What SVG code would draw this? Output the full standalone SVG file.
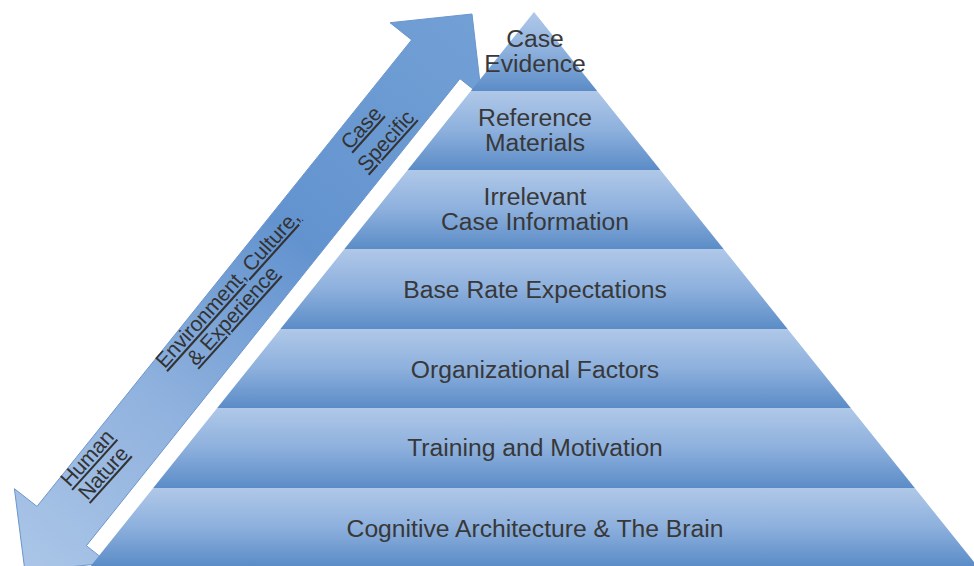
<svg xmlns="http://www.w3.org/2000/svg" width="974" height="566" viewBox="0 0 974 566">
  <defs>
    <linearGradient id="band" x1="0" y1="0" x2="0" y2="1">
      <stop offset="0" stop-color="#b0c8e8"/>
      <stop offset="0.5" stop-color="#8db0dd"/>
      <stop offset="1" stop-color="#5b8cc7"/>
    </linearGradient>
    <linearGradient id="arrowGrad" gradientUnits="userSpaceOnUse" x1="26" y1="571" x2="472" y2="14">
      <stop offset="0" stop-color="#aac5e7"/>
      <stop offset="0.3" stop-color="#90b2de"/>
      <stop offset="0.6" stop-color="#6393cf"/>
      <stop offset="1" stop-color="#72a0d5"/>
    </linearGradient>
    <style>
      .band { fill: url(#band); }
      .lbl { font-family: "Liberation Sans", Arial, sans-serif; font-size: 24.7px; fill: #383838; text-anchor: middle; }
      .alb { font-family: "Liberation Sans", Arial, sans-serif; font-size: 21px; fill: #333333; text-anchor: middle; text-decoration: underline; }
    </style>
  </defs>

  <g id="connectors">
    <g id="scale-arrow">
      <polygon points="472,14 481.5,95.9 460,78.7 86.4,545.7 108,562.9 25,571.6 14.4,488.7 37,506.4 411.6,39.9 390,22.7" fill="url(#arrowGrad)" stroke="#6b96cc" stroke-width="1" stroke-linejoin="miter"/>
      <text class="alb" transform="translate(366.3,132.5) rotate(-48)">Case</text>
      <text class="alb" transform="translate(391,145.4) rotate(-48)">Specific</text>
      <text class="alb" transform="translate(232.7,293.7) rotate(-48)">Environment, Culture,</text>
      <text class="alb" transform="translate(237.7,320.4) rotate(-48)">&amp; Experience</text>
      <text class="alb" transform="translate(92.5,462.7) rotate(-48)">Human</text>
      <text class="alb" transform="translate(108.5,477.7) rotate(-48)">Nature</text>
    </g>
  </g>

  <g id="level-1-case-evidence">
    <polygon class="band" points="534,12 597.2,91 470.8,91"/>
    <text class="lbl" x="535" y="47">Case</text>
    <text class="lbl" x="535" y="72">Evidence</text>
  </g>
  <g id="level-2-reference-materials">
    <polygon class="band" points="470.8,91 597.2,91 660.4,170 407.6,170"/>
    <text class="lbl" x="535" y="126">Reference</text>
    <text class="lbl" x="535" y="151">Materials</text>
  </g>
  <g id="level-3-irrelevant-case-information">
    <polygon class="band" points="407.6,170 660.4,170 723.6,249 344.4,249"/>
    <text class="lbl" x="535" y="205">Irrelevant</text>
    <text class="lbl" x="535" y="230">Case Information</text>
  </g>
  <g id="level-4-base-rate-expectations">
    <polygon class="band" points="344.4,249 723.6,249 787.6,329 280.4,329"/>
    <text class="lbl" x="535" y="298">Base Rate Expectations</text>
  </g>
  <g id="level-5-organizational-factors">
    <polygon class="band" points="280.4,329 787.6,329 850.8,408 217.2,408"/>
    <text class="lbl" x="535" y="378">Organizational Factors</text>
  </g>
  <g id="level-6-training-and-motivation">
    <polygon class="band" points="217.2,408 850.8,408 914.8,488 153.2,488"/>
    <text class="lbl" x="535" y="456">Training and Motivation</text>
  </g>
  <g id="level-7-cognitive-architecture">
    <polygon class="band" points="153.2,488 914.8,488 977.2,566 90.8,566"/>
    <text class="lbl" x="535" y="537">Cognitive Architecture &amp; The Brain</text>
  </g>
</svg>
